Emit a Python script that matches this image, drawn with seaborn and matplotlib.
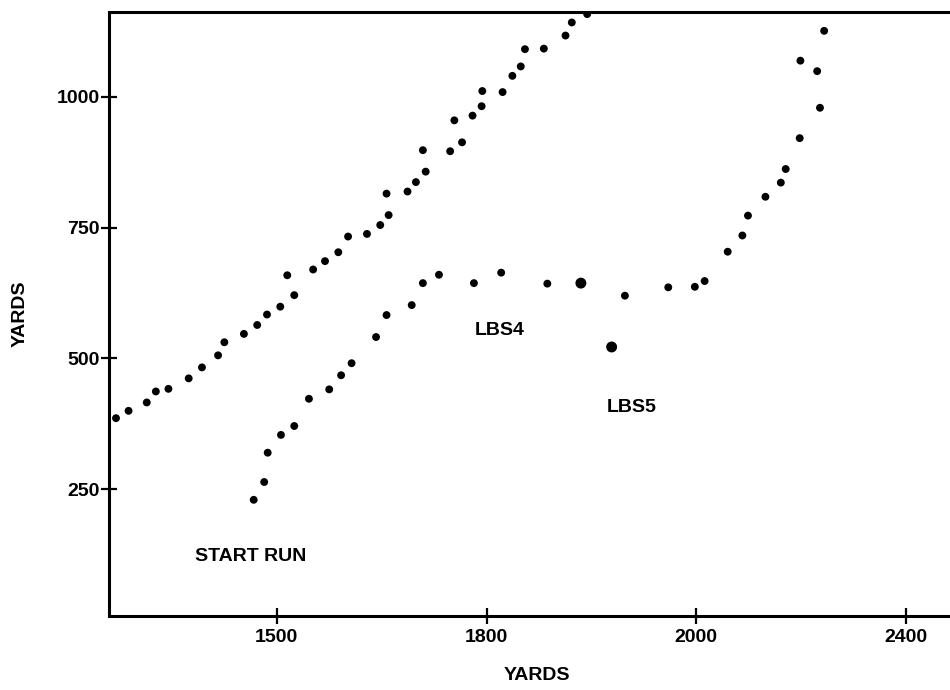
import matplotlib
matplotlib.use("Agg")
import matplotlib.pyplot as plt
import pandas as pd
import seaborn as sns

# ---- data ----
upper_x = [1270, 1288, 1314, 1327, 1345, 1374, 1393, 1416, 1425, 1453, 1472, 1486,
           1505, 1525, 1515, 1552, 1569, 1588, 1602, 1629, 1648, 1660, 1657, 1687,
           1699, 1713, 1709, 1748, 1765, 1754, 1780, 1793, 1794, 1823, 1837, 1849,
           1855, 1882, 1913, 1922, 1944]
upper_y = [386, 400, 416, 437, 442, 462, 483, 506, 531, 547, 564, 584,
           599, 621, 659, 670, 686, 703, 733, 738, 755, 774, 815, 819,
           837, 857, 898, 896, 913, 955, 964, 982, 1011, 1009, 1040, 1058,
           1091, 1092, 1117, 1142, 1158]

lower_x = [1467, 1482, 1487, 1506, 1525, 1546, 1575, 1592, 1607, 1642, 1657, 1693,
           1709, 1732, 1782, 1821, 1887, 1998, 2060, 2098, 2112, 2145, 2166,
           2174, 2199, 2221, 2228, 2248, 2277, 2273, 2249, 2283]
lower_y = [230, 264, 320, 354, 371, 423, 441, 468, 491, 541, 583, 602,
           644, 660, 644, 664, 643, 620, 636, 637, 648, 704, 735,
           773, 809, 836, 862, 921, 979, 1049, 1069, 1126]

station_x = [1935, 1979]
station_y = [644, 522]

labels = ["START RUN", "LBS4", "LBS5"]
label_x = [1463, 1819, 2008]
label_y = [122, 554, 407]

x_tick_pos = [1500, 1800, 2100, 2400]
x_tick_labels = ["1500", "1800", "2000", "2400"]
y_ticks = [250, 500, 750, 1000]
y_tick_labels = ["250", "500", "750", "1000"]

# ---- style ----
sns.set_theme(style="white")
plt.rcParams['font.family'] = ['Liberation Sans', 'DejaVu Sans']
plt.rcParams['font.weight'] = 'bold'

W, H = 950, 690
fig = plt.figure(figsize=(W / 100, H / 100), dpi=100)
ax = fig.add_axes([109 / W, 1 - 616 / H, 841 / W, 604 / H])

track = pd.DataFrame({
    "x": upper_x + lower_x,
    "y": upper_y + lower_y,
})
stations = pd.DataFrame({"x": station_x, "y": station_y})

sns.scatterplot(data=track, x="x", y="y", color="black", s=32,
                edgecolor="none", marker="o", ax=ax, legend=False)
sns.scatterplot(data=stations, x="x", y="y", color="black", s=62,
                edgecolor="none", marker="o", ax=ax, legend=False)

for t, tx, ty in zip(labels, label_x, label_y):
    ax.text(tx, ty, t, ha="center", va="center", fontsize=14,
            fontweight="bold", color="black")

ax.set_xlim(1260, 2463)
ax.set_ylim(8, 1162)
ax.set_xticks(x_tick_pos)
ax.set_xticklabels(x_tick_labels)
ax.set_yticks(y_ticks)
ax.set_yticklabels(y_tick_labels)

for side in ["left", "top", "bottom"]:
    ax.spines[side].set_visible(True)
    ax.spines[side].set_color("black")
    ax.spines[side].set_linewidth(2.2)
ax.spines["right"].set_visible(False)

ax.tick_params(axis="both", direction="inout", length=11, width=1.6,
               color="black", labelsize=14, labelcolor="black")
ax.tick_params(axis="x", pad=4, bottom=True)
ax.tick_params(axis="y", pad=1, left=True)

ax.set_xlabel("YARDS", fontsize=14, fontweight="bold", color="black")
ax.set_ylabel("YARDS", fontsize=14, fontweight="bold", color="black")
ax.xaxis.set_label_coords(0.509, -0.085)
ax.yaxis.set_label_coords(-0.095, 0.5)
ax.grid(False)

fig.savefig("out.png", dpi=100)
